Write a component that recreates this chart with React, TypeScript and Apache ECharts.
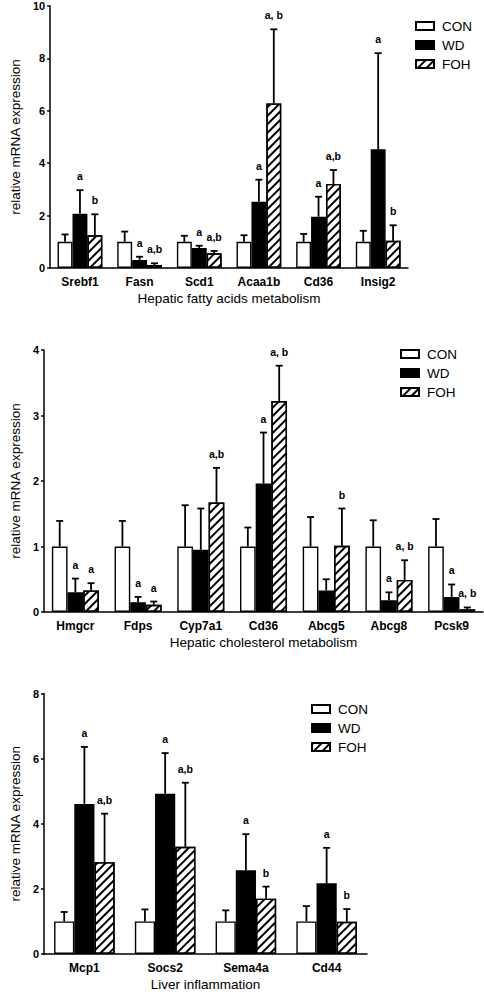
import React, { useEffect, useRef } from "react";
import * as echarts from "echarts";

// ---------- Data ----------
const groupNames = ["CON", "WD", "FOH"];

// Hepatic fatty acids metabolism
const fattyCats = ["Srebf1", "Fasn", "Scd1", "Acaa1b", "Cd36", "Insig2"];
const fattyCON = [1, 1, 1, 1, 1, 1];
const fattyCONErr = [1.28, 1.39, 1.23, 1.25, 1.3, 1.42];
const fattyWD = [2.07, 0.31, 0.76, 2.53, 1.96, 4.53];
const fattyWDErr = [2.97, 0.43, 0.85, 3.37, 2.72, 8.2];
const fattyFOH = [1.25, 0.11, 0.56, 6.28, 3.21, 1.04];
const fattyFOHErr = [2.05, 0.18, 0.65, 9.11, 3.74, 1.63];
const fattyWDSig = ["a", "a", "a", "a", "a", "a"];
const fattyFOHSig = ["b", "a,b", "a,b", "a, b", "a,b", "b"];

// Hepatic cholesterol metabolism
const cholCats = ["Hmgcr", "Fdps", "Cyp7a1", "Cd36", "Abcg5", "Abcg8", "Pcsk9"];
const cholCON = [1, 1, 1, 1, 1, 1, 1];
const cholCONErr = [1.39, 1.39, 1.63, 1.29, 1.45, 1.4, 1.42];
const cholWD = [0.3, 0.15, 0.95, 1.96, 0.33, 0.18, 0.23];
const cholWDErr = [0.51, 0.23, 1.58, 2.74, 0.5, 0.3, 0.42];
const cholFOH = [0.33, 0.11, 1.67, 3.22, 1.01, 0.49, 0.04];
const cholFOHErr = [0.44, 0.16, 2.2, 3.76, 1.58, 0.79, 0.07];
const cholWDSig = ["a", "a", "", "a", "", "a", "a"];
const cholFOHSig = ["a", "a", "a,b", "a, b", "b", "a, b", "a, b"];

// Liver inflammation
const inflCats = ["Mcp1", "Socs2", "Sema4a", "Cd44"];
const inflCON = [1, 1, 1, 1];
const inflCONErr = [1.29, 1.37, 1.34, 1.47];
const inflWD = [4.61, 4.92, 2.57, 2.17];
const inflWDErr = [6.36, 6.17, 3.68, 3.26];
const inflFOH = [2.82, 3.29, 1.7, 0.99];
const inflFOHErr = [4.31, 5.26, 2.07, 1.38];
const inflWDSig = ["a", "a", "a", "a"];
const inflFOHSig = ["a,b", "a,b", "b", "b"];

const yMaxes = [10, 4, 8];
const yIntervals = [2, 1, 2];
const xTitles = [
  "Hepatic fatty acids metabolism",
  "Hepatic cholesterol metabolism",
  "Liver inflammation",
];
const yTitle = "relative mRNA expression";

// ---------- Styling / layout ----------
const FONT = "Liberation Sans, Arial, Helvetica, sans-serif";
const grids = [
  { left: 31, top: 6, width: 377, height: 262 },
  { left: 31, top: 350, width: 452, height: 262 },
  { left: 35, top: 693.5, width: 332, height: 262 },
];
const legends = [
  { left: 410, top: 14 },
  { left: 395, top: 342 },
  { left: 306, top: 697 },
];
const BAR_FRACTION = 0.75;

const hatchDecal = {
  symbol: "rect",
  symbolSize: 1,
  dashArrayX: [1, 0],
  dashArrayY: [1.2, 3.8],
  rotation: -Math.PI / 4,
  color: "#000",
};

const groupStyles = [
  { color: "#fff", borderColor: "#000", borderWidth: 1.4 },
  { color: "#000", borderColor: "#000", borderWidth: 1.4 },
  { color: "#fff", borderColor: "#000", borderWidth: 1.4, decal: hatchDecal },
];

function errSeries(
  gi: number,
  si: number,
  means: number[],
  tops: number[],
  sigs: string[]
) {
  return {
    type: "custom",
    xAxisIndex: gi,
    yAxisIndex: gi,
    z: 5,
    silent: true,
    data: means.map((m, i) => [i, tops[i], m]),
    renderItem: (params: any, api: any) => {
      const cat = api.value(0);
      const top = api.value(1);
      const mean = api.value(2);
      const band = api.size([1, 0])[0];
      const bw = (band * BAR_FRACTION) / 3;
      const cx = api.coord([cat, 0])[0] + (si - 1) * bw;
      const yTop = api.coord([cat, top])[1];
      const yMean = api.coord([cat, mean])[1];
      const sig = sigs[params.dataIndex];
      const lineColor = "#000";
      const children: any[] = [
        {
          type: "line",
          shape: { x1: cx, y1: yMean, x2: cx, y2: yTop },
          style: { stroke: lineColor, lineWidth: 1.8 },
        },
        {
          type: "line",
          shape: { x1: cx - 3.5, y1: yTop, x2: cx + 3.5, y2: yTop },
          style: { stroke: lineColor, lineWidth: 1.8 },
        },
      ];
      if (sig) {
        children.push({
          type: "text",
          x: cx,
          y: yTop - 14,
          style: {
            text: sig,
            fill: "#000",
            font: `bold 10.5px ${FONT}`,
            align: "center",
            verticalAlign: "middle",
          },
        });
      }
      return { type: "group", children };
    },
  };
}

function buildChart(
  gi: number,
  cats: string[],
  con: number[],
  conErr: number[],
  wd: number[],
  wdErr: number[],
  foh: number[],
  fohErr: number[],
  wdSig: string[],
  fohSig: string[]
) {
  const xAxis = {
    type: "category",
    gridIndex: gi,
    data: cats,
    axisLine: { lineStyle: { color: "#000", width: 1.5 } },
    axisTick: { show: false },
    axisLabel: {
      color: "#000",
      fontWeight: "bold",
      fontSize: 12,
      fontFamily: FONT,
      margin: 8,
    },
    name: xTitles[gi],
    nameLocation: "middle",
    nameGap: 23,
    nameTextStyle: { color: "#000", fontSize: 13.5, fontFamily: FONT },
  };
  const yAxis = {
    type: "value",
    gridIndex: gi,
    min: 0,
    max: yMaxes[gi],
    interval: yIntervals[gi],
    axisLine: { show: true, lineStyle: { color: "#000", width: 1.5 } },
    axisTick: { show: true, length: 3, lineStyle: { color: "#000", width: 1.5 } },
    splitLine: { show: false },
    axisLabel: {
      color: "#000",
      fontWeight: "bold",
      fontSize: 11,
      fontFamily: FONT,
      margin: 5,
    },
    name: yTitle,
    nameLocation: "middle",
    nameGap: 18,
    nameTextStyle: { color: "#000", fontSize: 13.5, fontFamily: FONT },
  };
  const values = [con, wd, foh];
  const bars = values.map((v, si) => ({
    type: "bar",
    name: groupNames[si],
    xAxisIndex: gi,
    yAxisIndex: gi,
    data: v,
    barGap: "0%",
    barCategoryGap: "25%",
    itemStyle: groupStyles[si],
    z: 3,
  }));
  const errs = [
    errSeries(gi, 0, con, conErr, cats.map(() => "")),
    errSeries(gi, 1, wd, wdErr, wdSig),
    errSeries(gi, 2, foh, fohErr, fohSig),
  ];
  const legend = {
    orient: "vertical",
    left: legends[gi].left,
    top: legends[gi].top,
    icon: "rect",
    itemWidth: 18,
    itemHeight: 8,
    itemGap: 5,
    selectedMode: false,
    data: groupNames,
    textStyle: {
      color: "#000",
      fontSize: 13.5,
      fontFamily: FONT,
      lineHeight: 14,
      padding: [0, 0, 0, 3],
    },
  };
  return { xAxis, yAxis, series: [...bars, ...errs], legend };
}

export default function App() {
  const ref = useRef<HTMLDivElement>(null);
  useEffect(() => {
    if (!ref.current) return;
    const chart = echarts.init(ref.current, null, { renderer: "svg" });
    const c1 = buildChart(0, fattyCats, fattyCON, fattyCONErr, fattyWD, fattyWDErr, fattyFOH, fattyFOHErr, fattyWDSig, fattyFOHSig);
    const c2 = buildChart(1, cholCats, cholCON, cholCONErr, cholWD, cholWDErr, cholFOH, cholFOHErr, cholWDSig, cholFOHSig);
    const c3 = buildChart(2, inflCats, inflCON, inflCONErr, inflWD, inflWDErr, inflFOH, inflFOHErr, inflWDSig, inflFOHSig);
    const all = [c1, c2, c3];
    chart.setOption({
      animation: false,
      backgroundColor: "#fff",
      textStyle: { fontFamily: FONT },
      grid: grids.map((g) => ({ ...g, containLabel: false })),
      xAxis: all.map((c) => c.xAxis),
      yAxis: all.map((c) => c.yAxis),
      legend: all.map((c) => c.legend),
      series: all.flatMap((c) => c.series),
    });
    return () => chart.dispose();
  }, []);
  return (
    <div
      ref={ref}
      style={{ position: "absolute", left: 0, top: 0, width: 484, height: 992 }}
    />
  );
}
